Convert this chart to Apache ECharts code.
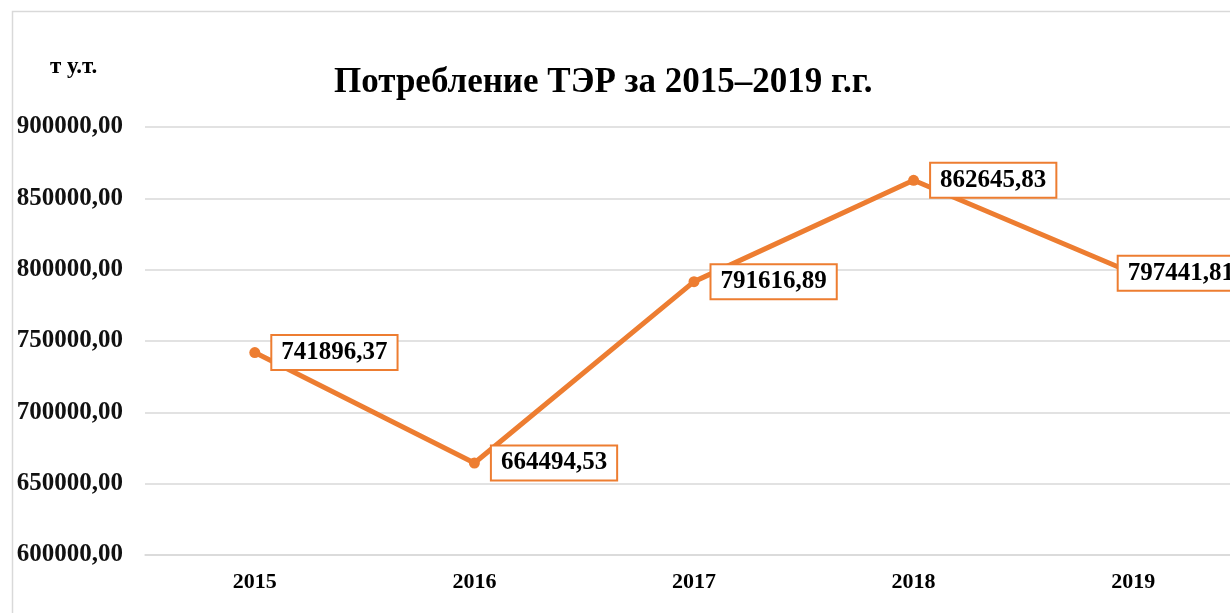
<!DOCTYPE html>
<html>
<head>
<meta charset="utf-8">
<script src="https://cdn.jsdelivr.net/npm/echarts@6/dist/echarts.min.js"></script>
<style>
  html, body {margin: 0; padding: 0; background: #fff; overflow: hidden;}
  /* slightly wider than the window: the last label runs off the edge */
  #main {width: 1246px; height: 613px;}
</style>
</head>
<body>
<div id="main"></div>
<script>

var years = ['2015', '2016', '2017', '2018', '2019'];
var values = [741896.37, 664494.53, 791616.89, 862645.83, 797441.81];
var yMin = 600000, yMax = 900000, yStep = 50000;

// comma as decimal separator, like the original
function fmt(v) {
    return Number(v).toFixed(2).replace('.', ',');
}

var myChart = echarts.init(document.getElementById('main'));

var seriesData = values.map(function (v, i) {
    var item = {value: v};
    if (i === values.length - 1) {
        // last label sits over the point
        item.label = {offset: [-32, 0]};
    }
    return item;
});

option = {
    backgroundColor: '#fff',
    animation: false,
    title: [{
        left: 329,
        top: 60,
        text: 'Потребление ТЭР за 2015–2019 г.г.',
        textStyle: {
            fontFamily: 'Liberation Serif',
            fontWeight: 'bold',
            fontSize: 35,
            color: '#000'
        }
    }, {
        left: 45,
        top: 51,
        text: 'т у.т.',
        textStyle: {
            fontFamily: 'Liberation Serif',
            fontWeight: 'bold',
            fontSize: 23,
            color: '#000'
        }
    }],
    graphic: [{
        type: 'rect',
        silent: true,
        shape: {x: 12.5, y: 11.5, width: 1260, height: 640},
        style: {fill: 'none', stroke: '#d9d9d9', lineWidth: 1.5}
    }],
    grid: {
        left: 145,
        right: 3,
        top: 127,
        bottom: 58
    },
    xAxis: {
        type: 'category',
        data: years,
        boundaryGap: true,
        axisLine: {show: true, lineStyle: {color: '#d9d9d9', width: 1.5}},
        axisTick: {show: false},
        axisLabel: {
            margin: 16,
            fontFamily: 'Liberation Serif',
            fontWeight: 'bold',
            fontSize: 22,
            color: '#000'
        }
    },
    yAxis: {
        type: 'value',
        min: yMin,
        max: yMax,
        interval: yStep,
        axisLine: {show: false},
        axisTick: {show: false},
        splitLine: {lineStyle: {color: '#d9d9d9', width: 1.5}},
        axisLabel: {
            margin: 22,
            formatter: fmt,
            fontFamily: 'Liberation Serif',
            fontWeight: 'bold',
            fontSize: 25,
            color: '#111'
        }
    },
    series: [{
        type: 'line',
        data: seriesData,
        symbol: 'circle',
        symbolSize: 11,
        lineStyle: {color: '#ED7D31', width: 5},
        itemStyle: {color: '#ED7D31'},
        label: {
            show: true,
            position: 'right',
            distance: 12,
            formatter: function (p) { return fmt(p.value); },
            fontFamily: 'Liberation Serif',
            fontWeight: 'bold',
            fontSize: 25,
            color: '#000',
            backgroundColor: '#fff',
            borderColor: '#ED7D31',
            borderWidth: 2,
            padding: [5, 9, 3, 9]
        }
    }]
};

myChart.setOption(option);
</script>
</body>
</html>
